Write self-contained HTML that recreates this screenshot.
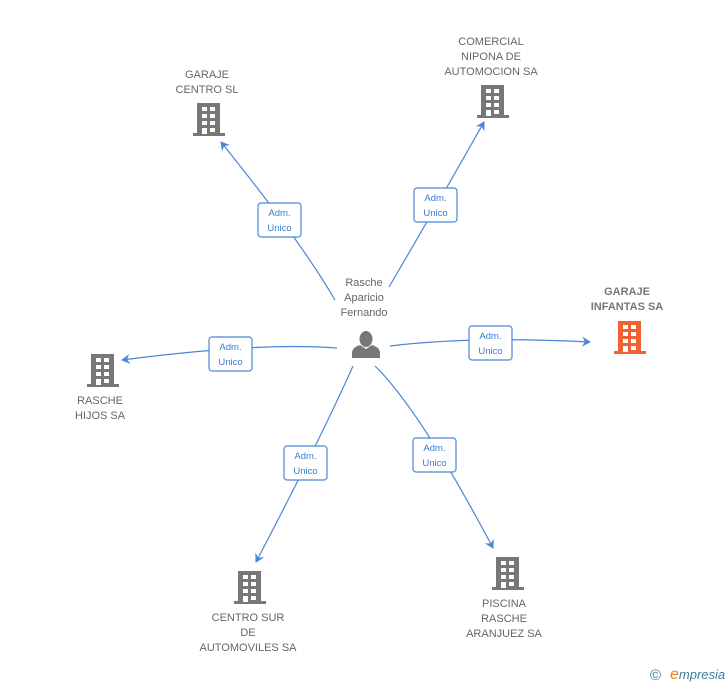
<!DOCTYPE html>
<html><head><meta charset="utf-8"><style>
body{margin:0;background:#fff;}
svg{display:block;font-family:"Liberation Sans",Arial,sans-serif;}
.n{font-size:11px;fill:#666;text-anchor:middle;}
.b{font-size:11px;fill:#777;font-weight:bold;text-anchor:middle;}
.l{font-size:9.5px;fill:#3a7bd5;text-anchor:middle;}
.e{fill:none;stroke:#4a86d8;stroke-width:1.2;}
.bx{fill:#fff;stroke:#4a86d8;stroke-width:1.2;}
</style></head><body>
<svg width="728" height="685" viewBox="0 0 728 685">
<defs>
<g id="bld">
<rect x="4" y="0" width="23" height="31" fill="currentColor"/>
<rect x="0" y="30" width="32" height="3" fill="currentColor"/>
<g fill="#fff">
<rect x="9" y="4" width="5" height="4"/><rect x="17" y="4" width="5" height="4"/>
<rect x="9" y="11" width="5" height="4"/><rect x="17" y="11" width="5" height="4"/>
<rect x="9" y="18" width="5" height="4"/><rect x="17" y="18" width="5" height="4"/>
<rect x="9" y="25" width="5" height="6"/><rect x="17" y="25" width="5" height="4"/>
</g>
</g>
<marker id="ar" markerWidth="10" markerHeight="10" refX="8" refY="5" orient="auto" markerUnits="userSpaceOnUse">
<path d="M0,0 L9,5 L0,10 L3,5 Z" fill="#4a86d8"/>
</marker>
</defs>

<!-- edges -->
<path class="e" d="M335,300 Q300,240 221,142" marker-end="url(#ar)"/>
<path class="e" d="M389,287 Q440,200 484,122" marker-end="url(#ar)"/>
<path class="e" d="M390,346 Q470,336 590,342" marker-end="url(#ar)"/>
<path class="e" d="M337,348 Q260,342 122,360" marker-end="url(#ar)"/>
<path class="e" d="M353,366 Q320,440 256,562" marker-end="url(#ar)"/>
<path class="e" d="M375,366 Q420,410 493,548" marker-end="url(#ar)"/>

<!-- label boxes -->
<g>
<rect class="bx" x="258" y="203" width="43" height="34" rx="3"/>
<text class="l" x="279.5" y="216">Adm.</text><text class="l" x="279.5" y="231">Unico</text>
<rect class="bx" x="414" y="188" width="43" height="34" rx="3"/>
<text class="l" x="435.5" y="201">Adm.</text><text class="l" x="435.5" y="216">Unico</text>
<rect class="bx" x="469" y="326" width="43" height="34" rx="3"/>
<text class="l" x="490.5" y="339">Adm.</text><text class="l" x="490.5" y="354">Unico</text>
<rect class="bx" x="209" y="337" width="43" height="34" rx="3"/>
<text class="l" x="230.5" y="350">Adm.</text><text class="l" x="230.5" y="365">Unico</text>
<rect class="bx" x="284" y="446" width="43" height="34" rx="3"/>
<text class="l" x="305.5" y="459">Adm.</text><text class="l" x="305.5" y="474">Unico</text>
<rect class="bx" x="413" y="438" width="43" height="34" rx="3"/>
<text class="l" x="434.5" y="451">Adm.</text><text class="l" x="434.5" y="466">Unico</text>
</g>

<!-- person -->
<text class="n" x="364" y="286">Rasche</text>
<text class="n" x="364" y="301">Aparicio</text>
<text class="n" x="364" y="316">Fernando</text>
<g fill="#777">
<ellipse cx="366" cy="339" rx="6.5" ry="8"/>
<path d="M352,358 L352,352 Q353,347 360,345 L366,349 L372,345 Q379,347 380,352 L380,358 Z"/>
</g>

<!-- nodes -->
<text class="n" x="207" y="78">GARAJE</text><text class="n" x="207" y="93">CENTRO SL</text>
<use href="#bld" x="193" y="103" style="color:#777"/>

<text class="n" x="491" y="45">COMERCIAL</text><text class="n" x="491" y="60">NIPONA DE</text><text class="n" x="491" y="75">AUTOMOCION SA</text>
<use href="#bld" x="477" y="85" style="color:#777"/>

<text class="b" x="627" y="295">GARAJE</text><text class="b" x="627" y="310">INFANTAS SA</text>
<use href="#bld" x="614" y="321" style="color:#f26230"/>

<use href="#bld" x="87" y="354" style="color:#777"/>
<text class="n" x="100" y="404">RASCHE</text><text class="n" x="100" y="419">HIJOS SA</text>

<use href="#bld" x="234" y="571" style="color:#777"/>
<text class="n" x="248" y="621">CENTRO SUR</text><text class="n" x="248" y="636">DE</text><text class="n" x="248" y="651">AUTOMOVILES SA</text>

<use href="#bld" x="492" y="557" style="color:#777"/>
<text class="n" x="504" y="607">PISCINA</text><text class="n" x="504" y="622">RASCHE</text><text class="n" x="504" y="637">ARANJUEZ SA</text>

<!-- logo -->
<text x="650" y="680" font-size="15" fill="#3a7f9a">©</text>
<text x="670" y="679" font-size="13" font-style="italic" fill="#3a7f9a"><tspan fill="#f08020" font-size="16">e</tspan>mpresia</text>
</svg>
</body></html>
